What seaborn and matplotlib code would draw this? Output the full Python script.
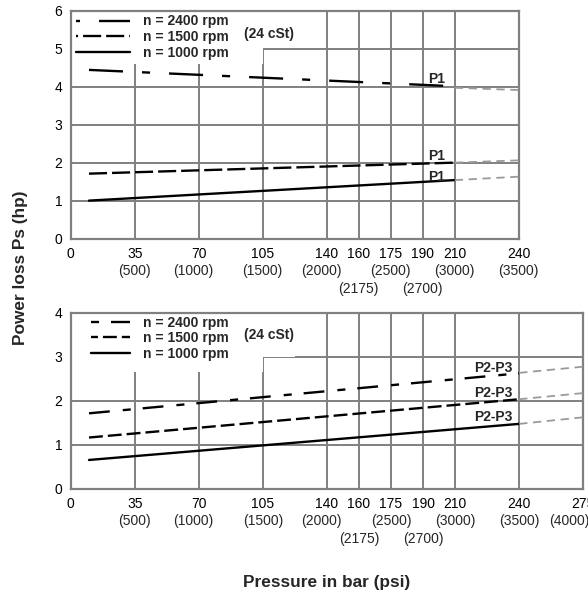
import numpy as np
import pandas as pd
import matplotlib
matplotlib.use("Agg")
import matplotlib.pyplot as plt
from matplotlib.lines import Line2D
from matplotlib.patches import Rectangle
import seaborn as sns

# pressure axis: bar ticks, psi equivalents
bar_ticks = [0, 35, 70, 105, 140, 160, 175, 190, 210, 240, 275]
psi_ticks = ["", "(500)", "(1000)", "(1500)", "(2000)", "(2175)", "(2500)",
             "(2700)", "(3000)", "(3500)", "(4000)"]
psi_low = ["(2175)", "(2700)"]          # printed one row lower
# the chart spaces the ticks evenly-ish, not linearly in bar
tick_slots = [0, 1, 2, 3, 4, 4.5, 5, 5.5, 6, 7, 8]

speeds = ["n = 2400 rpm", "n = 1500 rpm", "n = 1000 rpm"]

# P1 curves (top chart) - black part and grey extension
p1_2400_x = [10, 204]
p1_2400_y = [4.45, 4.03]
p1_2400_ext_x = [210, 240]
p1_2400_ext_y = [3.98, 3.92]
p1_1500_x = [10, 210]
p1_1500_y = [1.72, 2.01]
p1_1500_ext_x = [210, 240]
p1_1500_ext_y = [2.01, 2.07]
p1_1000_x = [10, 210]
p1_1000_y = [1.01, 1.55]
p1_1000_ext_x = [210, 240]
p1_1000_ext_y = [1.55, 1.64]

# P2-P3 curves (bottom chart)
p23_2400_x = [10, 240]
p23_2400_y = [1.72, 2.63]
p23_2400_ext_x = [240, 275]
p23_2400_ext_y = [2.64, 2.78]
p23_1500_x = [10, 240]
p23_1500_y = [1.17, 2.04]
p23_1500_ext_x = [240, 275]
p23_1500_ext_y = [2.04, 2.18]
p23_1000_x = [10, 240]
p23_1000_y = [0.66, 1.48]
p23_1000_ext_x = [240, 275]
p23_1000_ext_y = [1.48, 1.63]

sns.set_theme(style="whitegrid")
plt.rcParams["font.family"] = ["Liberation Sans", "DejaVu Sans"]
plt.rcParams["lines.scale_dashes"] = False

GRID = "#808080"
EXT = "#9a9a9a"
FS = 10

# small horizontal nudges (points) of some psi labels, as printed
psi_nudge = {"(1000)": -4, "(2000)": -4, "(4000)": -10}


def fwd(x):
    return np.interp(x, bar_ticks, tick_slots)


def inv(x):
    return np.interp(x, tick_slots, bar_ticks)


def make_df(curves):
    rows = []
    for name, part, xs, ys in curves:
        for x, y in zip(xs, ys):
            rows.append({"pressure": x, "power": y, "speed": name, "part": part})
    return pd.DataFrame(rows)


def draw(ax, df, styles, xmax, ymax, label, label_pts, legend_styles,
         handlelen, leg_anchor, cst_pos, masks):
    for (name, part), sub in df.groupby(["speed", "part"], sort=False):
        if part == "main":
            sns.lineplot(data=sub, x="pressure", y="power", ax=ax, color="black",
                         lw=1.7, linestyle=styles[name], errorbar=None, zorder=3)
        else:
            sns.lineplot(data=sub, x="pressure", y="power", ax=ax, color=EXT,
                         lw=1.3, linestyle=(0, (6, 4)), errorbar=None, zorder=3)

    ax.set_xscale("function", functions=(fwd, inv))
    ax.set_xlim(0, xmax)
    ax.set_ylim(0, ymax)
    n = bar_ticks.index(xmax) + 1
    ax.set_xticks(bar_ticks[:n])
    ax.set_xticklabels([str(b) for b in bar_ticks[:n]])
    for b, p in zip(bar_ticks[:n], psi_ticks[:n]):
        if p == "":
            continue
        dy = -36 if p in psi_low else -23
        ax.annotate(p, xy=(b, 0), xycoords=("data", "axes fraction"),
                    xytext=(psi_nudge.get(p, 0), dy), textcoords="offset points",
                    ha="center", va="center", fontsize=FS, annotation_clip=False)
    ax.set_yticks(range(0, ymax + 1))
    ax.tick_params(axis="both", length=0, labelsize=FS, labelcolor="black")
    ax.tick_params(axis="x", pad=6)
    ax.tick_params(axis="y", pad=6)
    ax.set_xlabel("")
    ax.set_ylabel("")
    ax.set_axisbelow(True)
    ax.grid(True, color=GRID, lw=1.4)
    for s in ax.spines.values():
        s.set_color(GRID)
        s.set_linewidth(1.6)
        s.set_visible(True)

    for (x0, y0, w, h) in masks:
        ax.add_patch(Rectangle((x0, y0), w, h, transform=ax.transAxes,
                               facecolor="white", edgecolor="none", zorder=1.5))

    for (x, y) in label_pts:
        ax.text(x, y, label, fontsize=FS, fontweight="bold", ha="center",
                va="center", zorder=4)

    handles = [Line2D([], [], color="black", lw=1.7, linestyle=legend_styles[s])
               for s in speeds]
    leg = ax.legend(handles, speeds, loc="upper left", bbox_to_anchor=leg_anchor,
                    frameon=False, borderpad=0, borderaxespad=0,
                    handlelength=handlelen, handletextpad=0.95, labelspacing=0.12,
                    prop={"size": FS, "weight": "bold"})
    leg.set_zorder(5)
    ax.text(cst_pos[0], cst_pos[1], "(24 cSt)", transform=ax.transAxes,
            fontsize=FS, fontweight="bold", ha="left", va="center", zorder=5)


fig = plt.figure(figsize=(5.88, 5.94), dpi=100)
fig.patch.set_facecolor("white")

ax1 = fig.add_axes([70.7 / 588, 1 - 239 / 594, 448 / 588, 228 / 594])
ax2 = fig.add_axes([70.7 / 588, 1 - 489 / 594, 512.5 / 588, 176 / 594])

top_df = make_df([
    (speeds[0], "main", p1_2400_x, p1_2400_y),
    (speeds[0], "ext", p1_2400_ext_x, p1_2400_ext_y),
    (speeds[1], "main", p1_1500_x, p1_1500_y),
    (speeds[1], "ext", p1_1500_ext_x, p1_1500_ext_y),
    (speeds[2], "main", p1_1000_x, p1_1000_y),
    (speeds[2], "ext", p1_1000_ext_x, p1_1000_ext_y),
])
bot_df = make_df([
    (speeds[0], "main", p23_2400_x, p23_2400_y),
    (speeds[0], "ext", p23_2400_ext_x, p23_2400_ext_y),
    (speeds[1], "main", p23_1500_x, p23_1500_y),
    (speeds[1], "ext", p23_1500_ext_x, p23_1500_ext_y),
    (speeds[2], "main", p23_1000_x, p23_1000_y),
    (speeds[2], "ext", p23_1000_ext_x, p23_1000_ext_y),
])

top_styles = {speeds[0]: (0, (24.5, 13.7, 5.8, 13.7)),
              speeds[1]: (0, (13, 3.6)),
              speeds[2]: "-"}
top_leg = {speeds[0]: (41.1, (24.5, 13.7, 5.8, 13.7)),
           speeds[1]: (11.5, (13, 3.6)),
           speeds[2]: "-"}
bot_styles = {speeds[0]: (0, (15, 9.4, 5.8, 8.6)),
              speeds[1]: (0, (10, 3.6)),
              speeds[2]: "-"}
bot_leg = {speeds[0]: (24.4, (15, 9.4, 5.8, 8.6)),
           speeds[1]: (5, (10, 3.6)),
           speeds[2]: "-"}

draw(ax1, top_df, top_styles, 240, 6, "P1",
     [(199, 4.21), (199, 2.18), (199, 1.64)], top_leg, 3.9,
     ((76 - 70.7) / 448, 0.985), (0.387, 0.899),
     [(0, 0.768, 0.429, 0.232), (0.429, 0.838, 0.071, 0.162)])
draw(ax2, bot_df, bot_styles, 275, 4, "P2-P3",
     [(228, 2.75), (228, 2.18), (228, 1.64)], bot_leg, 2.8,
     ((91 - 70.7) / 512.5, 0.985), (0.338, 0.875),
     [(0, 0.665, 0.375, 0.335), (0.375, 0.75, 0.063, 0.25)])

fig.text(20 / 588, 1 - 268 / 594, "Power loss Ps (hp)", rotation=90,
         ha="center", va="center", fontsize=12.4, fontweight="bold")
fig.text(327 / 588, 1 - 582 / 594, "Pressure in bar (psi)",
         ha="center", va="center", fontsize=12.4, fontweight="bold")

fig.savefig("out.png", dpi=100)
